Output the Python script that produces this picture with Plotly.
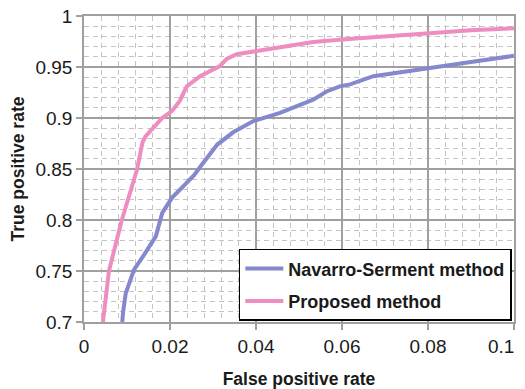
import plotly.graph_objects as go

# Navarro-Serment method
nav_fpr = [0.0089, 0.0091, 0.0097, 0.0116, 0.0140, 0.0167, 0.0182, 0.0205, 0.0233, 0.0256,
           0.0270, 0.0310, 0.0347, 0.0394, 0.0409, 0.0456, 0.0533, 0.0564, 0.0595, 0.0619,
           0.0673, 0.0797, 0.0900, 0.1000]
nav_tpr = [0.700, 0.710, 0.728, 0.751, 0.766, 0.784, 0.807, 0.822, 0.834, 0.844,
           0.852, 0.874, 0.886, 0.897, 0.899, 0.905, 0.918, 0.926, 0.931, 0.933,
           0.941, 0.949, 0.955, 0.961]

# Proposed method
prop_fpr = [0.0044, 0.0050, 0.0058, 0.0088, 0.0120, 0.0123, 0.0136, 0.0143, 0.0182, 0.0205,
            0.0223, 0.0239, 0.0270, 0.0316, 0.0332, 0.0355, 0.0402, 0.0456, 0.0533, 0.0600,
            0.0700, 0.0797, 0.0900, 0.1000]
prop_tpr = [0.700, 0.720, 0.750, 0.800, 0.843, 0.849, 0.876, 0.882, 0.900, 0.907,
            0.917, 0.931, 0.941, 0.951, 0.958, 0.9625, 0.9657, 0.969, 0.9745, 0.977,
            0.980, 0.9837, 0.986, 0.988]

x_ticks = [0, 0.02, 0.04, 0.06, 0.08, 0.1]
x_labels = ["0", "0.02", "0.04", "0.06", "0.08", "0.1"]
y_ticks = [0.7, 0.75, 0.8, 0.85, 0.9, 0.95, 1.0]
y_labels = ["0.7", "0.75", "0.8", "0.85", "0.9", "0.95", "1"]

FONT = "Liberation Sans, Arial, sans-serif"

fig = go.Figure()
fig.add_trace(go.Scatter(x=nav_fpr, y=nav_tpr, mode="lines", name="Navarro-Serment method",
                         line=dict(color="#8488CC", width=4), legendgroup="a"))
fig.add_trace(go.Scatter(x=prop_fpr, y=prop_tpr, mode="lines", name="Proposed method",
                         line=dict(color="#EF8DC0", width=4), legendgroup="b"))

axis_common = dict(
    showline=True, linecolor="#A0A0A0", linewidth=1.5, mirror=True,
    showgrid=True, gridcolor="#A0A0A0", gridwidth=1.5,
    ticks="outside", ticklen=6, tickcolor="#A0A0A0", tickwidth=1.5,
    tickfont=dict(family=FONT, size=19, color="#1a1a1a"),
    ticklabeloverflow="allow",
    zeroline=False, fixedrange=True, automargin=False,
)

# the last x label sits at the window edge, so it is drawn right-aligned as an annotation
fig.update_xaxes(
    range=[0, 0.10001], tickvals=x_ticks, ticktext=x_labels[:-1] + [""],
    minor=dict(dtick=0.004, showgrid=True, gridcolor="#C4C4C4", griddash="5px,4px", gridwidth=1),
    title=dict(text="<b>False positive rate</b>", font=dict(family=FONT, size=17.5, color="#1a1a1a"),
               standoff=19),
    **axis_common,
)
fig.update_yaxes(
    range=[0.7, 1.00003], tickvals=y_ticks, ticktext=y_labels,
    minor=dict(dtick=0.01, showgrid=True, gridcolor="#C4C4C4", griddash="5px,4px", gridwidth=1),
    title=dict(text="<b>True positive rate</b>", font=dict(family=FONT, size=17.5, color="#1a1a1a"),
               standoff=19),
    **axis_common,
)

fig.add_annotation(
    x=x_ticks[-1], xref="x", y=0, yref="paper", text=x_labels[-1],
    showarrow=False, xanchor="right", yanchor="middle", xshift=2, yshift=-24,
    font=dict(family=FONT, size=19, color="#1a1a1a"),
)

# page body adds an 8px margin, so the figure is drawn 8px smaller and offset
fig.update_layout(
    width=517, height=381,
    margin=dict(l=76, r=11, t=8, b=67),
    paper_bgcolor="white", plot_bgcolor="white",
    legend=dict(
        x=0.36, y=0.239, xanchor="left", yanchor="top",
        bgcolor="white", bordercolor="black", borderwidth=1.5,
        font=dict(family=FONT, size=18, color="#1a1a1a", weight="bold"),
        tracegroupgap=6, traceorder="grouped", itemwidth=38,
    ),
    showlegend=True,
)

fig.write_html("out.html")
